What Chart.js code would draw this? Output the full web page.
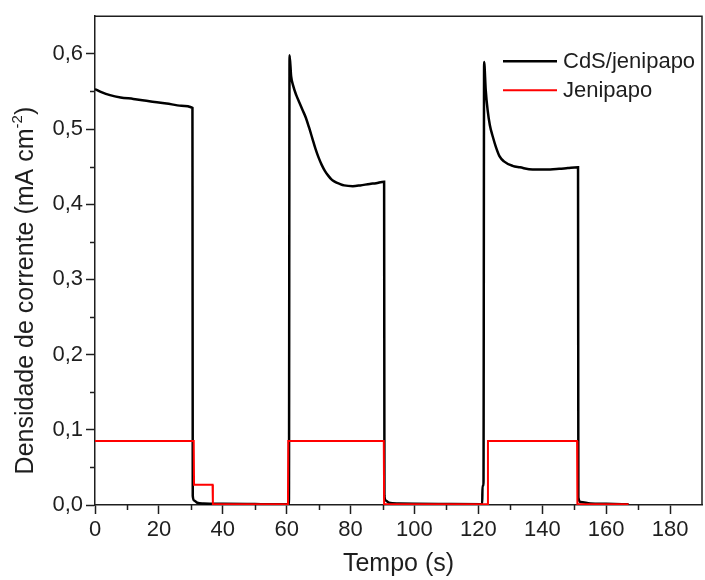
<!DOCTYPE html>
<html>
<head>
<meta charset="utf-8">
<script src="https://cdn.jsdelivr.net/npm/chart.js@4.4.1/dist/chart.umd.min.js"></script>
<style>
  html, body { margin: 0; padding: 0; background: #fff; }
  #wrap { width: 705px; height: 580px; }
</style>
</head>
<body>
<div id="wrap"><canvas id="c" width="705" height="580"></canvas></div>
<script>
// ---- data ----
const seriesNames = ['CdS/jenipapo', 'Jenipapo'];

const cdsTime = [0, 2, 4.7, 8, 12, 17, 22.4, 27, 30.5, 30.6, 31, 32, 34, 40, 50, 60.7,
  60.9, 61.4, 62, 63, 64, 65, 66, 67, 68, 69, 70, 71, 72, 73, 74, 75, 76.6, 78, 80.7, 83, 86, 88, 90.5,
  90.6, 91, 92, 95, 100, 110, 121.2, 121.3, 121.6,
  121.8, 122.3, 122.9, 123.6, 124.5, 125.5, 126.6, 128, 130.7, 133, 137, 141, 145.3, 148, 151.2,
  151.3, 152, 155, 160, 167];
const cdsValue = [0.553, 0.549, 0.545, 0.542, 0.540, 0.537, 0.534, 0.531, 0.528, 0.012, 0.006, 0.003, 0.002, 0.0015, 0.0012, 0.001,
  0.598, 0.570, 0.558, 0.545, 0.535, 0.525, 0.515, 0.502, 0.488, 0.474, 0.462, 0.452, 0.444, 0.438, 0.433, 0.430, 0.427, 0.425, 0.424, 0.425, 0.427, 0.428, 0.430,
  0.012, 0.006, 0.003, 0.002, 0.0015, 0.0012, 0.001, 0.026, 0.026,
  0.589, 0.552, 0.525, 0.505, 0.490, 0.476, 0.464, 0.457, 0.451, 0.449, 0.446, 0.446, 0.447, 0.448, 0.449,
  0.010, 0.004, 0.002, 0.0015, 0.001];

const jenTime = [0, 30.9, 31.0, 36.8, 36.9, 60.4, 60.5, 90.4, 90.5, 122.9, 123.0, 150.9, 151.0, 167];
const jenValue = [0.085, 0.085, 0.027, 0.027, 0.001, 0.001, 0.085, 0.085, 0.001, 0.001, 0.085, 0.085, 0.001, 0.001];

const xMajorTicks = [0, 20, 40, 60, 80, 100, 120, 140, 160, 180];
const xMinorTicks = [10, 30, 50, 70, 90, 110, 130, 150, 170];
const yMajorTicks = [0, 0.1, 0.2, 0.3, 0.4, 0.5, 0.6];
const yMinorTicks = [0.05, 0.15, 0.25, 0.35, 0.45, 0.55];

const xTitle = 'Tempo (s)';
const yTitleMain = 'Densidade de corrente (mA cm';
const yTitleSup = '-2';
const yTitleEnd = ')';

// ---- build ----
const FONT = '"Liberation Sans", Arial, Helvetica, sans-serif';
const INK = '#1e1e1e';

function pts(t, v) { return t.map((x, i) => ({ x: x, y: v[i] })); }

const minorTicksPlugin = {
  id: 'minorTicks',
  afterDraw(chart) {
    const ctx = chart.ctx;
    const xs = chart.scales.x, ys = chart.scales.y;
    const ca = chart.chartArea;
    ctx.save();
    ctx.strokeStyle = INK;
    ctx.lineWidth = 1.5;
    ctx.beginPath();
    xMinorTicks.forEach(v => {
      const px = Math.round(xs.getPixelForValue(v)) + 0.5;
      ctx.moveTo(px, ca.bottom);
      ctx.lineTo(px, ca.bottom + 5);
    });
    yMinorTicks.forEach(v => {
      const py = Math.round(ys.getPixelForValue(v)) + 0.5;
      ctx.moveTo(ca.left, py);
      ctx.lineTo(ca.left - 5, py);
    });
    ctx.stroke();
    // frame top & right
    ctx.beginPath();
    ctx.moveTo(ca.left, ca.top);
    ctx.lineTo(ca.right, ca.top);
    ctx.lineTo(ca.right, ca.bottom);
    ctx.stroke();

    // y title with superscript
    const cy = (ca.top + ca.bottom) / 2 + 30;
    ctx.translate(33, cy);
    ctx.rotate(-Math.PI / 2);
    ctx.fillStyle = INK;
    ctx.textBaseline = 'alphabetic';
    ctx.textAlign = 'left';
    const mainFont = '25px ' + FONT;
    const supFont = '15px ' + FONT;
    ctx.font = mainFont;
    const w1 = ctx.measureText(yTitleMain).width;
    const w3 = ctx.measureText(yTitleEnd).width;
    ctx.font = supFont;
    const w2 = ctx.measureText(yTitleSup).width;
    const total = w1 + w2 + w3;
    let x0 = -total / 2;
    ctx.font = mainFont;
    ctx.fillText(yTitleMain, x0, 0);
    ctx.font = supFont;
    ctx.fillText(yTitleSup, x0 + w1, -11);
    ctx.font = mainFont;
    ctx.fillText(yTitleEnd, x0 + w1 + w2, 0);
    ctx.restore();

    // legend
    ctx.save();
    const lx0 = ca.right - 199, lx1 = ca.right - 145, tx = ca.right - 139;
    chart.data.datasets.forEach((ds, i) => {
      const ly = ca.top + 45 + i * 29;
      ctx.strokeStyle = ds.borderColor;
      ctx.lineWidth = ds.borderWidth;
      ctx.beginPath();
      ctx.moveTo(lx0, ly);
      ctx.lineTo(lx1, ly);
      ctx.stroke();
      ctx.fillStyle = INK;
      ctx.font = '22px ' + FONT;
      ctx.textBaseline = 'middle';
      ctx.textAlign = 'left';
      ctx.fillText(ds.label, tx, ly + 1);
    });
    ctx.restore();
  }
};

new Chart(document.getElementById('c'), {
  type: 'line',
  data: {
    datasets: [
      { label: seriesNames[0], data: pts(cdsTime, cdsValue), borderColor: '#000000', borderWidth: 2.5,
        pointRadius: 0, fill: false, cubicInterpolationMode: 'monotone', order: 2 },
      { label: seriesNames[1], data: pts(jenTime, jenValue), borderColor: '#ff0000', borderWidth: 2,
        pointRadius: 0, fill: false, tension: 0, order: 1 }
    ]
  },
  options: {
    responsive: false,
    animation: false,
    layout: { padding: { left: 0, top: 13, right: 3, bottom: 0 } },
    plugins: { legend: { display: false }, tooltip: { enabled: false } },
    scales: {
      x: {
        type: 'linear', min: 0, max: 190,
        ticks: { autoSkip: false, color: INK, font: { family: FONT, size: 22 }, padding: 3, maxRotation: 0,
          callback: v => String(v) },
        afterBuildTicks: s => { s.ticks = xMajorTicks.map(v => ({ value: v })); },
        afterFit: s => { s.height = 75; },
        grid: { drawOnChartArea: false, drawTicks: true, tickLength: 9, tickWidth: 1.5, tickColor: INK },
        border: { display: true, color: INK, width: 1.5 },
        title: { display: true, text: xTitle, color: INK, font: { family: FONT, size: 25 }, padding: { top: 0, bottom: 1 } }
      },
      y: {
        type: 'linear', min: 0, max: 0.65,
        ticks: { autoSkip: false, color: INK, font: { family: FONT, size: 22 }, padding: 3,
          callback: v => v.toFixed(1).replace('.', ',') },
        afterBuildTicks: s => { s.ticks = yMajorTicks.map(v => ({ value: v })); },
        afterFit: s => { s.width = 95; },
        grid: { drawOnChartArea: false, drawTicks: true, tickLength: 9, tickWidth: 1.5, tickColor: INK },
        border: { display: true, color: INK, width: 1.5 }
      }
    }
  },
  plugins: [minorTicksPlugin]
});
</script>
</body>
</html>
